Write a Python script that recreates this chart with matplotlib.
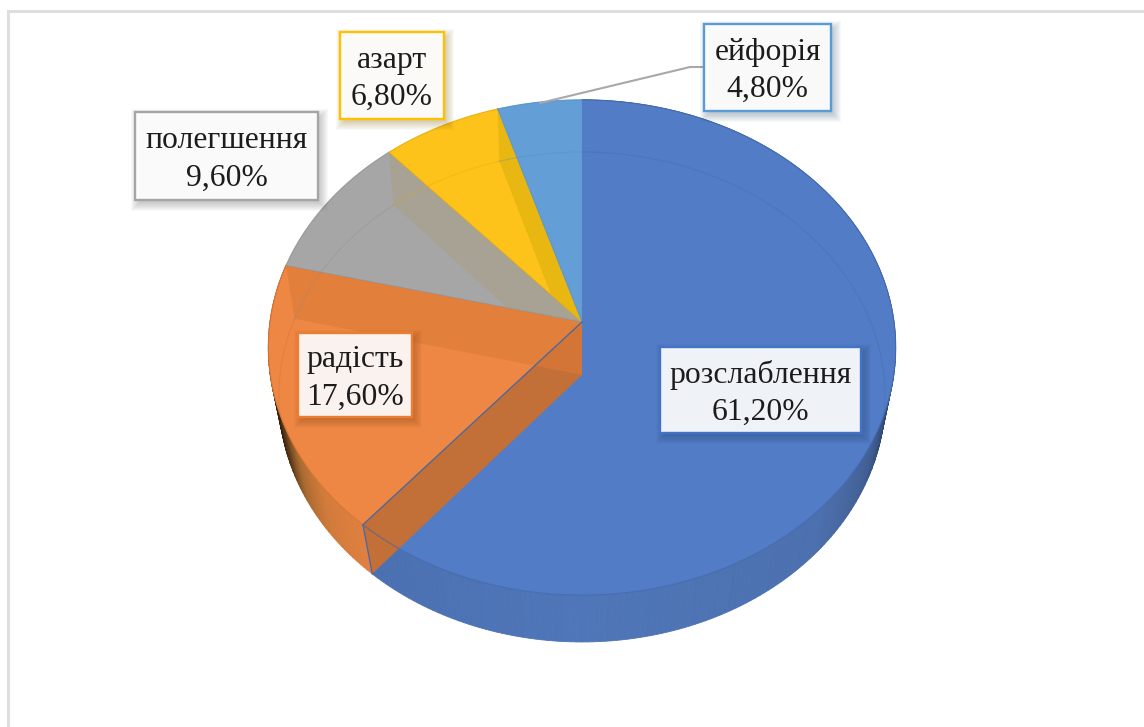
import numpy as np
import matplotlib
matplotlib.use("Agg")
import matplotlib.pyplot as plt
from matplotlib.patches import Polygon, Rectangle

# ---- data ----
categories = ["розслаблення", "радість", "полегшення", "азарт", "ейфорія"]
values = [61.2, 17.6, 9.6, 6.8, 4.8]

# ---- style ----
top_colors = ["#527DC6", "#EE8743", "#A6A6A6", "#FDC31B", "#639FD6"]
edge_colors = ["#4472C4", "#ED7D31", "#A5A5A5", "#FFC000", "#5B9BD5"]
arc_colors = ["#3F65A8", "#D0702F", "#8F8F8F", "#E0A800", "#4F8CC4"]
# label boxes: left, top, right, bottom in pixels
boxes = [(660, 347, 861, 433), (298, 333, 412, 417), (135, 112, 318, 200),
         (340, 32, 444, 119), (704, 24, 831, 111)]

# perspective of upper and lower pie discs: cx, cy, half-width, depth, k
UP = (582.0, 322.0, 312.0, 245.0, 0.103)
LO = (582.0, 375.0, 302.0, 243.0, 0.0898)


def project(theta_deg, r, disc):
    cx, cy, b, a, k = disc
    t = np.radians(theta_deg)
    u, v = r * np.sin(t), r * np.cos(t)
    d = 1 + k * v
    return np.column_stack([cx + b * u / d, cy - a * v / d])


def sector(start, end, disc):
    th = np.linspace(start, end, 240)
    return np.vstack([project(np.array([0.0]), 0.0, disc), project(th, 1.0, disc)])


def hex_rgb(h):
    return np.array(matplotlib.colors.to_rgb(h))


fig = plt.figure(figsize=(11.44, 7.27), dpi=100, facecolor="white")
ax = fig.add_axes([0, 0, 1, 1])
ax.set_xlim(0, 1144)
ax.set_ylim(727, 0)
ax.axis("off")

# outer frame of the picture
ax.add_patch(Rectangle((7, 10), 1140, 3, fc="#DEDEDE", ec="none", zorder=1))
ax.add_patch(Rectangle((7, 10), 3, 720, fc="#DEDEDE", ec="none", zorder=1))

angles = np.concatenate([[0.0], np.cumsum(values)]) * 360.0 / sum(values)

# ---- side wall: gradient strips between the two rims ----
wall_stops = [
    (0, "#26385C"), (98, "#26385C"), (106, "#2E4570"), (116, "#3F5C90"), (135, "#4C70AE"),
    (180, "#4F76B8"), (220.3, "#4B70B2"),
]
orange_stops = [(220.3, "#E08040"), (232, "#D07A3A"), (240, "#AA6A30"),
                (248, "#5A3A18"), (255, "#3A2410"), (285, "#2E1D0C")]


def wall_color(theta, stops):
    th = [s[0] for s in stops]
    cols = np.array([hex_rgb(s[1]) for s in stops])
    return tuple(np.interp(theta, th, cols[:, i]) for i in range(3))


for idx, stops in ((0, wall_stops), (1, orange_stops)):
    th = np.arange(angles[idx], angles[idx + 1] + 0.01, 1.0)
    th = np.append(th, angles[idx + 1])
    for t0, t1 in zip(th[:-1], th[1:]):
        pts = np.vstack([project(np.array([t0, t1]), 1.0, UP),
                         project(np.array([t1, t0]), 1.0, LO)])
        c = wall_color((t0 + t1) / 2, stops)
        ax.add_patch(Polygon(pts, closed=True, fc=c, ec=c, lw=0.6, zorder=2))

# ---- top surface ----
top_patches = []
for i in range(len(values)):
    poly = Polygon(sector(angles[i], angles[i + 1], UP), closed=True,
                   fc=top_colors[i], ec=top_colors[i], lw=0.5, zorder=3)
    ax.add_patch(poly)
    top_patches.append(poly)

disc_clip = Polygon(project(np.linspace(0, 360, 720), 1.0, UP), closed=True,
                    transform=ax.transData)


def wall_quad(theta):
    a = project(np.array([theta]), 0.0, UP)
    b = project(np.array([theta]), 1.0, UP)
    c = project(np.array([theta]), 1.0, LO)
    d = project(np.array([theta]), 0.0, LO)
    return np.vstack([a, b, c, d])


# inner radial walls seen through the translucent slices
for bound, owner, col in ((angles[2], 1, "#E17F3B"), (angles[3], 2, "#A8A294"),
                          (angles[4], 3, "#E9B711")):
    q = Polygon(wall_quad(bound), closed=True, fc=col, ec="none", zorder=4)
    ax.add_patch(q)
    q.set_clip_path(top_patches[owner])

# wall between blue and orange slices lies in front of everything
qb = Polygon(wall_quad(angles[1]), closed=True, fc="#C26F38", ec="none", zorder=5)
ax.add_patch(qb)
qo = Polygon(wall_quad(angles[1]), closed=True, fc="#D27536", ec="none", zorder=5.1)
ax.add_patch(qo)
qo.set_clip_path(Polygon(wall_quad(angles[2]), closed=True, transform=ax.transData))

# faint back rim of the lower disc
for i in range(len(values)):
    th = np.linspace(angles[i], angles[i + 1], 200)
    pts = project(th, 1.0, LO)
    ln, = ax.plot(pts[:, 0], pts[:, 1], color=arc_colors[i], lw=0.9, alpha=0.3, zorder=5.5)
    ln.set_clip_path(disc_clip)

# rim and slice outlines
for i in range(len(values)):
    th = np.linspace(angles[i], angles[i + 1], 200)
    pts = project(th, 1.0, UP)
    ax.plot(pts[:, 0], pts[:, 1], color=arc_colors[i], lw=0.9, alpha=0.6, zorder=6)
for i in range(1, len(values)):
    pts = project(np.array([angles[i], angles[i]]), np.array([0.0, 1.0]), UP)
    ax.plot(pts[:, 0], pts[:, 1], color=arc_colors[i], lw=0.7, alpha=0.6, zorder=6)
pts = project(np.array([0.0, 0.0]), np.array([0.0, 1.0]), UP)
ax.plot(pts[:, 0], pts[:, 1], color="#4F7FC0", lw=0.8, zorder=6)
pts = np.vstack([project(np.array([angles[1]]), 0.0, UP), project(np.array([angles[1]]), 1.0, UP),
                 project(np.array([angles[1]]), 1.0, LO)])
ax.plot(pts[:, 0], pts[:, 1], color="#4468A8", lw=0.9, zorder=6)

# leader line of the smallest slice
ax.plot([540, 690, 704], [103, 67, 67], color="#A8A8A8", lw=1.5, zorder=7,
        solid_capstyle="round", solid_joinstyle="round")

# ---- labels ----
for cat, val, box, ec in zip(categories, values, boxes, edge_colors):
    x0, y0, x1, y1 = box
    base = hex_rgb(ec) * 0.5
    for grow in np.arange(-3, 7.1, 1.0):
        ax.add_patch(Rectangle((x0 + 3 - grow, y0 + 4 - grow), x1 - x0 + 2 * grow, y1 - y0 + 2 * grow,
                               fc=base, ec="none", alpha=0.035, zorder=8))
    ax.add_patch(Rectangle((x0, y0), x1 - x0, y1 - y0, fc=(1, 1, 1, 0.92), ec=ec, lw=1.7, zorder=9))
    txt = f"{cat}\n{val:.2f}".replace(".", ",") + "%"
    ax.text((x0 + x1) / 2, (y0 + y1) / 2 + 3.5, txt, family="Liberation Serif", fontsize=22.8,
            color="#1C1C1C", ha="center", va="center", linespacing=1.37, zorder=10)

fig.savefig("out.png", dpi=100, facecolor="white")
